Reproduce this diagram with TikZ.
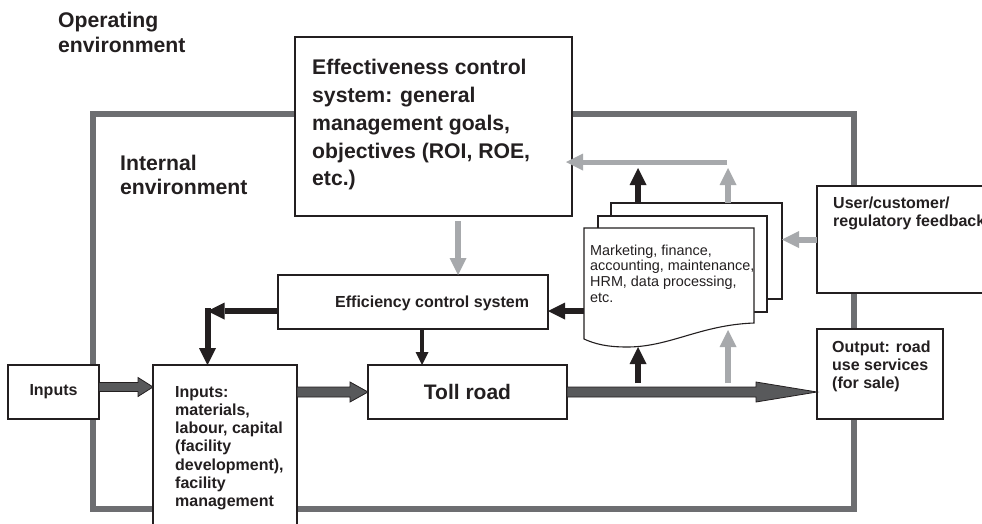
\documentclass[tikz,border=0pt]{standalone}
\usepackage{fontspec}
\setmainfont{Liberation Sans}
\usetikzlibrary{arrows.meta,calc}

\definecolor{ink}{HTML}{231F20}
\definecolor{framegray}{RGB}{109,110,113}
\definecolor{lightarrow}{HTML}{A7A9AC}
\definecolor{blockfill}{HTML}{58595B}

\newcommand\fntHead{\fontsize{21.2}{24.6}\selectfont\bfseries}
\newcommand\fntEff{\fontsize{21.2}{27.75}\selectfont\bfseries}
\newcommand\fntBox{\fontsize{16}{18.3}\selectfont\bfseries}
\newcommand\fntDoc{\fontsize{14.4}{15.7}\selectfont}

\tikzset{
  box/.style={draw=ink, line width=1.2pt, fill=white, rectangle,
              inner sep=0pt, outer sep=0pt, anchor=north west, text=ink},
  page/.style={draw=ink, line width=1.1pt, fill=white},
  lbl/.style={anchor=north west, inner sep=0pt, align=left, text=ink},
  blk/.style={draw=ink, line width=6pt,
              -{Triangle[length=17pt,width=17pt,line width=0pt]}},
  blkthin/.style={draw=ink, line width=4pt,
              -{Triangle[length=13pt,width=13pt,line width=0pt]}},
  grayarr/.style={draw=lightarrow, line width=6pt,
              -{Triangle[length=17pt,width=17pt,line width=0pt]}},
  blockarrow/.style={draw=ink, line width=0.8pt, fill=blockfill, line join=miter},
}

% block arrow: start, end, shaft half-height, head half-height, head length
\newcommand\blockarrow[5]{%
  \filldraw[blockarrow] let \p1=#1, \p2=#2 in
    (\x1,\y1+#3) -- (\x2-#5,\y1+#3) -- (\x2-#5,\y1+#4) -- (\x2,\y1)
    -- (\x2-#5,\y1-#4) -- (\x2-#5,\y1-#3) -- (\x1,\y1-#3) -- cycle;}

\begin{document}
\begin{tikzpicture}[x=1pt,y=-1pt]
\clip (0,0) rectangle (982,523);
\fill[white] (0,0) rectangle (982,523);

% internal environment frame
\node[draw=framegray, line width=5.5pt, inner sep=0pt, outer sep=0pt,
      minimum width=761pt, minimum height=395pt, anchor=north west] (internal) at (93,114) {};

\node[lbl, font=\fntHead] (openv) at (58,12) {Operating\\environment};
\node[lbl, font=\fntHead] (intenv) at (120,154.5) {Internal\\environment};

% boxes
\node[box, minimum width=277pt, minimum height=179pt] (eff) at (295,37) {};
\node[lbl, font=\fntEff] (efftext) at (312,59.4)
  {Effectiveness control\\system: general\\management goals,\\objectives (ROI, ROE,\\etc.)};

\node[box, minimum width=270pt, minimum height=54pt] (effcy) at (278,275) {};
\node[anchor=base west, inner sep=0pt, font=\fntBox, text=ink] (effcytext) at (335,307)
  {Efficiency control system};

\node[box, minimum width=91pt, minimum height=54pt, font=\fntBox] (inp0) at (8,365) {Inputs};

\node[box, minimum width=144pt, minimum height=200pt] (inp) at (153,365) {};
\node[lbl, font=\fntBox] (inptext) at (175,385.8)
  {Inputs:\\materials,\\labour, capital\\(facility\\development),\\facility\\management};

\node[box, minimum width=199pt, minimum height=54pt,
      font={\fontsize{21}{25}\selectfont\bfseries}] (toll) at (368,365) {Toll road};

\node[box, minimum width=126pt, minimum height=90pt] (out) at (817,329) {};
\node[lbl, font=\fntBox] (outtext) at (832,340.3) {Output: road\\use services\\(for sale)};

\node[box, minimum width=200pt, minimum height=107pt] (user) at (817,186) {};
\node[lbl, font=\fntBox] (usertext) at (833,196.5) {User/customer/\\regulatory feedback};

% stack of functional documents
\node[page, minimum width=171pt, minimum height=96pt, anchor=north west,
      inner sep=0pt, outer sep=0pt] (docC) at (611,203) {};
\node[page, minimum width=169pt, minimum height=96pt, anchor=north west,
      inner sep=0pt, outer sep=0pt] (docB) at (598,216) {};
\node[inner sep=0pt, outer sep=0pt, minimum width=170pt, minimum height=119pt,
      anchor=north west] (docA) at (584,228) {};
\draw[page] (584,228) -- (754,228) -- (754,323)
  .. controls (700,325) and (670,347) .. (627,347)
  .. controls (607,347) and (595,344) .. (584,339) -- cycle;
\node[lbl, font=\fntDoc] (doctext) at (590,244.5)
  {Marketing, finance,\\accounting, maintenance,\\HRM, data processing,\\etc.};

% control connectors
\draw[grayarr, shorten <=5pt] ([xshift=24.5pt]eff.south) -- ([xshift=45pt]effcy.north);
\draw[blkthin] ([xshift=9pt]effcy.south) -- ([xshift=9pt]effcy.south |- toll.north);

\coordinate (bend) at (207.5,311);
\draw[blk] ([yshift=-9pt]effcy.west) -- (bend);
\draw[blk] ([yshift=3pt]bend) -- (bend |- inp.north);
\draw[blk] (docA.west |- bend) -- (effcy.east |- bend);

% main flow
\blockarrow{([yshift=5pt]inp0.east)}{(inp.west)}{4.5pt}{9.5pt}{15pt}
\blockarrow{(toll.west -| inp.east)}{(toll.west)}{5pt}{10pt}{18pt}
\blockarrow{(toll.east)}{(out.west)}{5pt}{10pt}{61pt}

% reporting connectors
\coordinate (tapA) at (638,383);
\coordinate (tapB) at (728,383);
\coordinate (grayTip) at (728,330);
\draw[blk] (tapA) -- (tapA |- docA.south);
\draw[grayarr] (tapB) -- (grayTip);

\coordinate (rptA) at (638,168);
\coordinate (rptB) at (728,168);
\draw[blk] (docC.north -| rptA) -- (rptA);
\draw[grayarr] (docC.north -| rptB) -- (rptB);

\coordinate (fbstart) at (727,162);
\draw[grayarr, line width=5pt, shorten >=-6pt] (fbstart) -- (fbstart -| eff.east);

\draw[grayarr] (user.west) -- (user.west -| docC.east);
\end{tikzpicture}
\end{document}
